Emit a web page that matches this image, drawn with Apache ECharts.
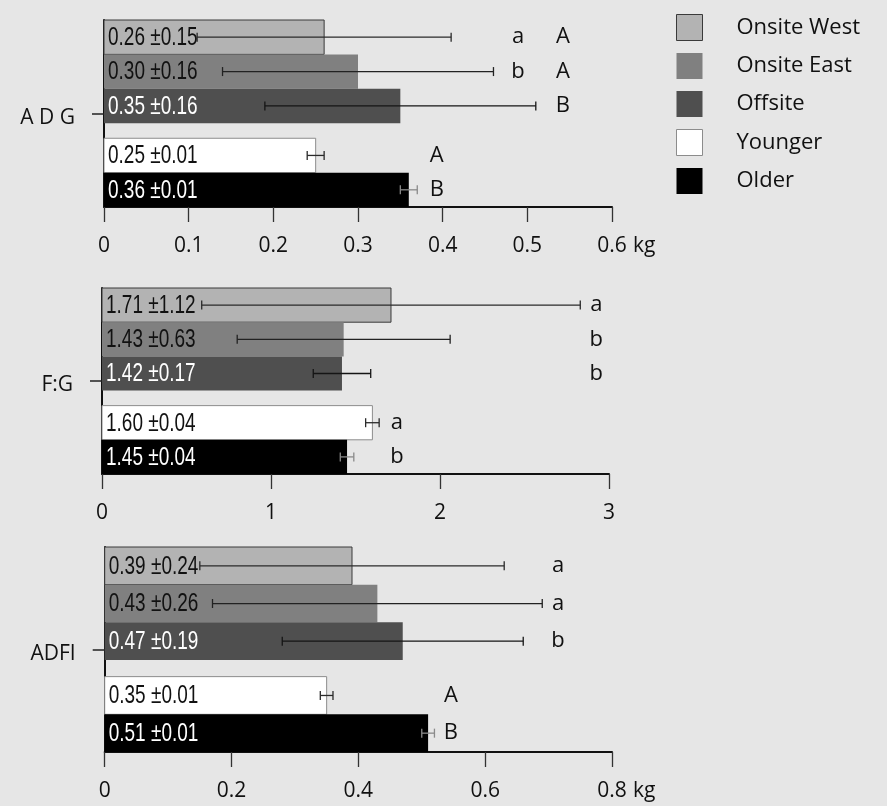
<!DOCTYPE html>
<html>
<head>
<meta charset="utf-8">
<script src="https://cdn.jsdelivr.net/npm/echarts@6/dist/echarts.min.js"></script>
<style>
  html, body { margin: 0; padding: 0; background: #e6e6e6; }
  #chart { width: 887px; height: 806px; }
</style>
</head>
<body>
<div id="chart"></div>
<script>
// Groups, in the order the bars are stacked inside each panel
const groups = ['Onsite West', 'Onsite East', 'Offsite', 'Younger', 'Older'];

// Average daily gain (kg)
const adgMean = [0.26, 0.30, 0.35, 0.25, 0.36];
const adgSd   = [0.15, 0.16, 0.16, 0.01, 0.01];
const adgSiteLettersLower = ['a', 'b', ''];
const adgSiteLettersUpper = ['A', 'A', 'B'];
const adgAgeLetters = ['A', 'B'];

// Feed to gain ratio
const fgMean = [1.71, 1.43, 1.42, 1.60, 1.45];
const fgSd   = [1.12, 0.63, 0.17, 0.04, 0.04];
const fgSiteLetters = ['a', 'b', 'b'];
const fgAgeLetters = ['a', 'b'];

// Average daily feed intake (kg)
const adfiMean = [0.39, 0.43, 0.47, 0.35, 0.51];
const adfiSd   = [0.24, 0.26, 0.19, 0.01, 0.01];
const adfiSiteLetters = ['a', 'a', 'b'];
const adfiAgeLetters = ['A', 'B'];

// Axis ticks
const adgTicks  = { max: 0.6, interval: 0.1 };
const fgTicks   = { max: 3,   interval: 1 };
const adfiTicks = { max: 0.8, interval: 0.2 };

// ---- styling ----
const fillColors  = ['#b3b3b3', '#808080', '#4f4f4f', '#ffffff', '#000000'];
const borderColors = ['#3a3a3a', null, null, '#8c8c8c', null];
const labelColors = ['#111111', '#111111', '#ffffff', '#111111', '#ffffff'];
const errColors   = ['#2a2a2a', '#222222', '#151515', '#2a2a2a', '#8a8a8a'];
const SANS = '"Open Sans", "Noto Sans", sans-serif';
const LABEL_FONT = '25px "Liberation Sans", Arimo, sans-serif';
const LABEL_SQUEEZE = 0.76;          // horizontal condensing of the in-bar value labels
const GROUP_GAP = 0.44;              // extra space between site rows and age rows (in bar heights)
const ROWS_SPAN = 5 + GROUP_GAP;

function rowCenter(i) {
  return i + 0.5 + (i >= 3 ? GROUP_GAP : 0);
}

const panels = [
  { label: 'A D G', mean: adgMean, sd: adgSd, ticks: adgTicks, unit: 'kg',
    siteCols: [adgSiteLettersLower, adgSiteLettersUpper], siteColX: [0.489, 0.542],
    ageLetters: adgAgeLetters, ageColX: 0.393,
    box: { left: 104, width: 508, top: 20, height: 187 } },
  { label: 'F:G', mean: fgMean, sd: fgSd, ticks: fgTicks, unit: '',
    siteCols: [fgSiteLetters], siteColX: [2.925],
    ageLetters: fgAgeLetters, ageColX: 1.745,
    box: { left: 102, width: 507, top: 288, height: 186 } },
  { label: 'ADFI', mean: adfiMean, sd: adfiSd, ticks: adfiTicks, unit: 'kg',
    siteCols: [adfiSiteLetters], siteColX: [0.715],
    ageLetters: adfiAgeLetters, ageColX: 0.546,
    box: { left: 104.7, width: 507.3, top: 547, height: 205 } }
];

function makeRenderer(panel, g) {
  return function (params, api) {
    const v = api.value(0);
    const sd = api.value(1);
    const row = rowCenter(g);
    const p0 = api.coord([0, row]);
    const p1 = api.coord([v, row]);
    const bh = api.size([0, 1])[1];
    const lo = api.coord([v - sd, row]);
    const hi = api.coord([v + sd, row]);
    const cap = 4.5;
    const children = [];
    children.push({
      type: 'rect',
      shape: { x: p0[0], y: p0[1] - bh / 2, width: p1[0] - p0[0], height: bh },
      style: {
        fill: fillColors[g],
        stroke: borderColors[g] || null,
        lineWidth: borderColors[g] ? 1 : 0
      }
    });
    const errStyle = { stroke: errColors[g], lineWidth: 1.3 };
    children.push({ type: 'line', shape: { x1: lo[0], y1: lo[1], x2: hi[0], y2: hi[1] }, style: errStyle });
    children.push({ type: 'line', shape: { x1: lo[0], y1: lo[1] - cap, x2: lo[0], y2: lo[1] + cap }, style: errStyle });
    children.push({ type: 'line', shape: { x1: hi[0], y1: hi[1] - cap, x2: hi[0], y2: hi[1] + cap }, style: errStyle });
    children.push({
      type: 'text',
      x: p0[0] + 4, y: p0[1] + 1,
      scaleX: LABEL_SQUEEZE,
      style: {
        text: v.toFixed(2) + ' \u00b1' + sd.toFixed(2),
        fill: labelColors[g],
        font: LABEL_FONT,
        align: 'left', verticalAlign: 'middle'
      }
    });
    // significance letters
    const letterStyle = (t) => ({ text: t, fill: '#111', font: '22px ' + SANS, align: 'center', verticalAlign: 'middle' });
    if (g < 3) {
      panel.siteCols.forEach((col, ci) => {
        if (col[g]) {
          const pt = api.coord([panel.siteColX[ci], row]);
          children.push({ type: 'text', x: pt[0], y: pt[1], style: letterStyle(col[g]) });
        }
      });
    } else {
      const t = panel.ageLetters[g - 3];
      if (t) {
        const pt = api.coord([panel.ageColX, row]);
        children.push({ type: 'text', x: pt[0], y: pt[1], style: letterStyle(t) });
      }
    }
    return { type: 'group', children };
  };
}

const grid = [], xAxis = [], yAxis = [], series = [];
panels.forEach((panel, p) => {
  grid.push(Object.assign({ containLabel: false, outerBoundsMode: 'none' }, panel.box));
  xAxis.push({
    type: 'value', gridIndex: p, min: 0, max: panel.ticks.max, interval: panel.ticks.interval,
    axisLine: { show: true, onZero: false, lineStyle: { color: '#111', width: 2 } },
    axisTick: { show: true, length: 15, lineStyle: { color: '#333', width: 1.3 } },
    axisLabel: { margin: 29, fontSize: 21, color: '#111', fontFamily: SANS, showMinLabel: true, showMaxLabel: true },
    splitLine: { show: false },
    name: panel.unit, nameLocation: 'end', nameGap: 21,
    nameTextStyle: { fontSize: 21, color: '#111', fontFamily: SANS, verticalAlign: 'top', align: 'left', padding: [29, 0, 0, 0] }
  });
  yAxis.push({
    type: 'category', gridIndex: p, data: [panel.label],
    axisLine: { show: true, onZero: false, lineStyle: { color: '#111', width: 2 } },
    axisTick: { show: true, alignWithLabel: true, length: 12, lineStyle: { color: '#222', width: 1.5 } },
    axisLabel: {
      margin: 29,
      formatter: (name) => '{t|' + name + '}',
      rich: { t: { fontSize: 21, color: '#111', fontFamily: SANS, padding: [9, 0, 0, 0] } }
    },
    splitLine: { show: false }
  });
  yAxis.push({ type: 'value', gridIndex: p, min: 0, max: ROWS_SPAN, inverse: true, show: false });
  groups.forEach((name, g) => {
    series.push({
      type: 'custom', name, xAxisIndex: p, yAxisIndex: p * 2 + 1,
      data: [[panel.mean[g], panel.sd[g]]],
      itemStyle: { color: fillColors[g], borderColor: borderColors[g] || fillColors[g], borderWidth: borderColors[g] ? 1 : 0 },
      renderItem: makeRenderer(panel, g),
      clip: false, silent: true
    });
  });
});

const chart = echarts.init(document.getElementById('chart'), null, { renderer: 'canvas' });
chart.setOption({
  backgroundColor: '#e6e6e6',
  animation: false,
  legend: {
    orient: 'vertical', left: 676, top: 14, padding: 0,
    itemWidth: 26, itemHeight: 26, itemGap: 12, icon: 'rect',
    selectedMode: false,
    textStyle: { fontSize: 22, color: '#111', fontFamily: SANS, padding: [0, 0, 0, 29] },
    data: groups.map((name, g) => ({
      name,
      itemStyle: { color: fillColors[g], borderColor: borderColors[g] || fillColors[g], borderWidth: borderColors[g] ? 1 : 0 }
    }))
  },
  grid, xAxis, yAxis, series
});
</script>
</body>
</html>
